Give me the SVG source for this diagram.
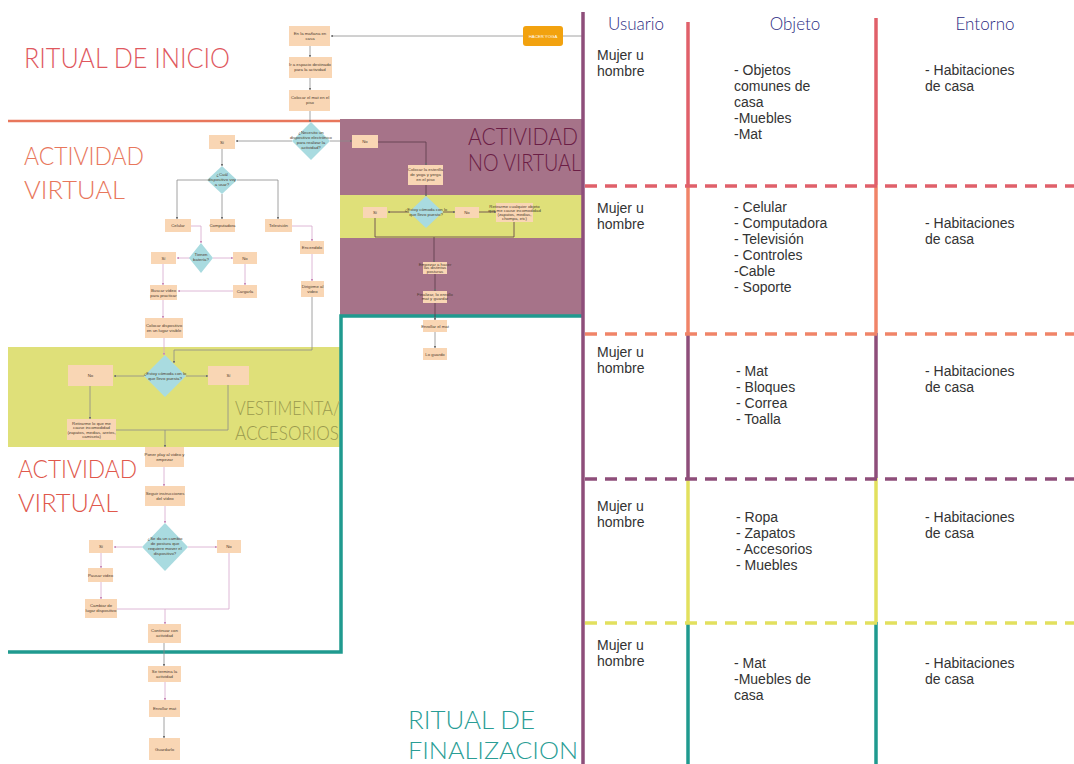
<svg xmlns="http://www.w3.org/2000/svg" width="1074" height="764" viewBox="0 0 1074 764">
<defs>
<marker id="ar" viewBox="0 0 6 6" refX="5" refY="3" markerWidth="3" markerHeight="3" orient="auto"><path d="M0,0 L6,3 L0,6 z" fill="#6f6f6f"/></marker>
<marker id="arp" viewBox="0 0 6 6" refX="5" refY="3" markerWidth="3" markerHeight="3" orient="auto"><path d="M0,0 L6,3 L0,6 z" fill="#c98bb8"/></marker>
<style>
.b{fill:#f9d6b4}
.d{fill:#a9dbe0}
.n{font-family:"Liberation Sans",Arial,sans-serif;font-size:4.3px;fill:#4d3b2e;text-anchor:middle}
.h{font-family:"Lato","Liberation Sans",sans-serif;font-weight:300}
.t{font-family:"Liberation Sans",Arial,sans-serif;font-size:14px;fill:#333}
.hd{font-family:"Lato","Liberation Sans",sans-serif;font-weight:300;font-size:17px;fill:#2c2c82}
.g{fill:none;stroke:#8c8c8c;stroke-width:0.8;marker-end:url(#ar)}
.g0{fill:none;stroke:#8c8c8c;stroke-width:0.8}
.p{fill:none;stroke:#d6a6cc;stroke-width:0.8;marker-end:url(#arp)}
.p0{fill:none;stroke:#d6a6cc;stroke-width:0.8}
.k{fill:none;stroke:#5a3a4a;stroke-width:0.8;marker-end:url(#ar)}
.k0{fill:none;stroke:#5a3a4a;stroke-width:0.8}
</style>
</defs>
<rect width="1074" height="764" fill="#ffffff"/>

<!-- background zones -->
<g id="zones">
<rect x="340" y="119" width="242" height="197" fill="#a67389"/>
<rect x="340" y="195" width="242" height="43" fill="#dfe079"/>
<rect x="8" y="347" width="333" height="100" fill="#dfe079"/>
<line x1="8" y1="121" x2="340" y2="121" stroke="#e8775c" stroke-width="2.5"/>
<polyline points="8,652 341,652 341,316 582,316" fill="none" stroke="#1f9a8f" stroke-width="3.5"/>
</g>

<g id="labels">
<text class="h" x="24" y="68" font-size="28" fill="#e0585e" textLength="206" lengthAdjust="spacingAndGlyphs">RITUAL DE INICIO</text>
<text class="h" x="24" y="165" font-size="25" fill="#e8775c" textLength="120" lengthAdjust="spacingAndGlyphs">ACTIVIDAD</text>
<text class="h" x="24" y="199" font-size="25" fill="#e8775c" textLength="101" lengthAdjust="spacingAndGlyphs">VIRTUAL</text>
<text class="h" x="468" y="145" font-size="23" fill="#6b1d45" textLength="110" lengthAdjust="spacingAndGlyphs">ACTIVIDAD</text>
<text class="h" x="468" y="171" font-size="23" fill="#6b1d45" textLength="113" lengthAdjust="spacingAndGlyphs">NO VIRTUAL</text>
<text class="h" x="235" y="415" font-size="20.5" fill="#9a9a4e" textLength="105" lengthAdjust="spacingAndGlyphs">VESTIMENTA/</text>
<text class="h" x="235" y="440" font-size="20.5" fill="#9a9a4e" textLength="104" lengthAdjust="spacingAndGlyphs">ACCESORIOS</text>
<text class="h" x="18" y="478" font-size="25" fill="#e0584c" textLength="119" lengthAdjust="spacingAndGlyphs">ACTIVIDAD</text>
<text class="h" x="18" y="512" font-size="25" fill="#e0584c" textLength="100" lengthAdjust="spacingAndGlyphs">VIRTUAL</text>
<text class="h" x="408" y="729" font-size="25" fill="#2a9d95" textLength="127" lengthAdjust="spacingAndGlyphs">RITUAL DE</text>
<text class="h" x="408" y="759" font-size="24" fill="#2a9d95" textLength="170" lengthAdjust="spacingAndGlyphs">FINALIZACION</text>
</g>

<!-- connectors -->
<g id="connectors">
<path class="g0" d="M583,36 H563"/>
<path class="g" d="M523,36 H331"/>
<path class="g" d="M310,46 V57"/>
<path class="g" d="M310,78 V90"/>
<path class="g" d="M310,111 V122"/>
<path class="g" d="M292,141 H236"/>
<path class="g" d="M330,141 H352"/>
<path class="k" d="M378,142 H426 V165"/>
<path class="g" d="M222,149 V166"/>
<path class="g" d="M208,180 H177 V219"/>
<path class="g" d="M222,194 V219"/>
<path class="g" d="M237,180 H278 V219"/>
<path class="p" d="M292,226 H312 V241"/>
<path class="p" d="M312,254 V281"/>
<path class="g" d="M312,297 V350 H174 V363"/>
<path class="p" d="M191,226 H201 V243"/>
<path class="p" d="M190,258 H177"/>
<path class="p" d="M213,258 H233"/>
<path class="p" d="M245,264 V285"/>
<path class="p" d="M233,291 H178"/>
<path class="p" d="M163,264 V285"/>
<path class="p" d="M163,300 V318"/>
<path class="p" d="M164,338 V355"/>
<path class="g" d="M144,376 H114"/>
<path class="g" d="M186,376 H208"/>
<path class="g" d="M90,386 V419"/>
<path class="g0" d="M116,430 H165"/>
<path class="g0" d="M228,385 V430 H165"/>
<path class="g" d="M165,430 V447"/>
<path class="p" d="M164,467 V486"/>
<path class="p" d="M165,506 V523"/>
<path class="p" d="M142,547 H114"/>
<path class="p" d="M188,547 H217"/>
<path class="p" d="M101,553 V568"/>
<path class="p" d="M101,582 V599"/>
<path class="p0" d="M117,609 H165"/>
<path class="p0" d="M229,553 V609 H165"/>
<path class="p" d="M165,609 V624"/>
<path class="g" d="M164,643 V666"/>
<path class="p" d="M165,682 V700"/>
<path class="g" d="M164,717 V738"/>
<path class="k" d="M426,185 V196"/>
<path class="k" d="M409,212 H388"/>
<path class="k" d="M443,212 H455"/>
<path class="k" d="M479,212 H496"/>
<path class="k0" d="M375,218 V237 H434"/>
<path class="k0" d="M514,222 V237 H434"/>
<path class="k" d="M434,237 V262"/>
<path class="k" d="M435,274 V291"/>
<path class="k" d="M435,303 V320"/>
<path class="g" d="M435,332 V348"/>
</g>

<!-- flow nodes -->
<g id="n-yoga"><rect x="523" y="26" width="40" height="20" rx="3" fill="#f2a20f"/><text class="n" x="543" y="37.5" style="fill:#fff">HACER YOGA</text></g>
<g id="n-manana"><rect class="b" x="289" y="26" width="41" height="20"/><text class="n" x="310" y="35">En la mañana en</text><text class="n" x="310" y="40">casa</text></g>
<g id="n-espacio"><rect class="b" x="289" y="57" width="43" height="21"/><text class="n" x="310" y="66">Ir a espacio destinado</text><text class="n" x="310" y="71">para la actividad</text></g>
<g id="n-mat"><rect class="b" x="289" y="90" width="41" height="21"/><text class="n" x="310" y="99">Colocar el mat en el</text><text class="n" x="310" y="104">piso</text></g>
<g id="n-necesito"><polygon class="d" points="311,122 330,141 311,160 292,141"/><text class="n" x="311" y="134" font-size="3.6">¿Necesito un</text><text class="n" x="311" y="139" font-size="3.6">dispositivo electrónico</text><text class="n" x="311" y="144" font-size="3.6">para realizar la</text><text class="n" x="311" y="149" font-size="3.6">actividad?</text></g>
<g id="n-si1"><rect class="b" x="209" y="135" width="26" height="14"/><text class="n" x="222" y="143.5">Sí</text></g>
<g id="n-no1"><rect class="b" x="352" y="135" width="26" height="13"/><text class="n" x="365" y="143">No</text></g>
<g id="n-cual"><polygon class="d" points="222,166 237,180 222,194 207,180"/><text class="n" x="222" y="176" font-size="3.8">¿Cuál</text><text class="n" x="222" y="181" font-size="3.8">dispositivo voy</text><text class="n" x="222" y="186" font-size="3.8">a usar?</text></g>
<g id="n-celular"><rect class="b" x="165" y="219" width="26" height="13"/><text class="n" x="178" y="227">Celular</text></g>
<g id="n-compu"><rect class="b" x="210" y="219" width="25" height="13"/><text class="n" x="222.5" y="227">Computadora</text></g>
<g id="n-tele"><rect class="b" x="265" y="219" width="27" height="13"/><text class="n" x="278.5" y="227">Televisión</text></g>
<g id="n-encendido"><rect class="b" x="300" y="241" width="24" height="13"/><text class="n" x="312" y="249">Encendido</text></g>
<g id="n-dirigirme"><rect class="b" x="301" y="281" width="23" height="16"/><text class="n" x="312.5" y="288">Dirigirme al</text><text class="n" x="312.5" y="293">video</text></g>
<g id="n-bateria"><polygon class="d" points="201,243 213,258 201,273 189,258"/><text class="n" x="201" y="256" font-size="3.8">Tienen</text><text class="n" x="201" y="261" font-size="3.8">batería?</text></g>
<g id="n-si2"><rect class="b" x="151" y="252" width="25" height="12"/><text class="n" x="163.5" y="259.5">Sí</text></g>
<g id="n-no2"><rect class="b" x="233" y="252" width="24" height="12"/><text class="n" x="245" y="259.5">No</text></g>
<g id="n-cargarla"><rect class="b" x="233" y="285" width="24" height="13"/><text class="n" x="245" y="293">Cargarla</text></g>
<g id="n-buscar"><rect class="b" x="150" y="285" width="27" height="15"/><text class="n" x="163.5" y="291.5">Buscar vídeo</text><text class="n" x="163.5" y="296.5">para practicar</text></g>
<g id="n-colocar"><rect class="b" x="145" y="318" width="38" height="20"/><text class="n" x="164" y="327">Colocar dispositivo</text><text class="n" x="164" y="332">en un lugar visible</text></g>
<g id="n-comoda"><polygon class="d" points="165,355 186,376 165,397 144,376"/><text class="n" x="165" y="375" font-size="3.8">¿Estoy cómoda con lo</text><text class="n" x="165" y="380" font-size="3.8">que llevo puesta?</text></g>
<g id="n-no3"><rect class="b" x="68" y="365" width="45" height="21"/><text class="n" x="90.5" y="377">No</text></g>
<g id="n-si3"><rect class="b" x="208" y="366" width="41" height="19"/><text class="n" x="228.5" y="377">Sí</text></g>
<g id="n-retirarme"><rect class="b" x="67" y="419" width="49" height="21"/><text class="n" x="91.5" y="424.5">Retirarme lo que me</text><text class="n" x="91.5" y="429">cause incomodidad</text><text class="n" x="91.5" y="433.5">(zapatos, medias, aretes,</text><text class="n" x="91.5" y="438">camiseta)</text></g>
<g id="n-play"><rect class="b" x="145" y="447" width="39" height="20"/><text class="n" x="164.5" y="455.5">Poner play al video y</text><text class="n" x="164.5" y="460.5">empezar</text></g>
<g id="n-seguir"><rect class="b" x="145" y="486" width="40" height="20"/><text class="n" x="165" y="494.5">Seguir instrucciones</text><text class="n" x="165" y="499.5">del vídeo</text></g>
<g id="n-postura"><polygon class="d" points="165,523 188,547 165,571 142,547"/><text class="n" x="165" y="540" font-size="3.6">¿Se da un cambio</text><text class="n" x="165" y="545" font-size="3.6">de postura que</text><text class="n" x="165" y="550" font-size="3.6">requiere mover el</text><text class="n" x="165" y="555" font-size="3.6">dispositivo?</text></g>
<g id="n-si4"><rect class="b" x="89" y="540" width="24" height="13"/><text class="n" x="101" y="548">Sí</text></g>
<g id="n-no4"><rect class="b" x="217" y="540" width="24" height="13"/><text class="n" x="229" y="548">No</text></g>
<g id="n-pausar"><rect class="b" x="88" y="568" width="25" height="14"/><text class="n" x="100.5" y="576.5">Pausar video</text></g>
<g id="n-cambiar"><rect class="b" x="85" y="599" width="32" height="19"/><text class="n" x="101" y="607">Cambiar de</text><text class="n" x="101" y="612">lugar dispositivo</text></g>
<g id="n-continuar"><rect class="b" x="148" y="624" width="33" height="19"/><text class="n" x="164.5" y="632">Continuar con</text><text class="n" x="164.5" y="637">actividad</text></g>
<g id="n-termina"><rect class="b" x="148" y="666" width="33" height="16"/><text class="n" x="164.5" y="673">Se termina la</text><text class="n" x="164.5" y="678">actividad</text></g>
<g id="n-enrollar"><rect class="b" x="149" y="700" width="31" height="17"/><text class="n" x="164.5" y="710">Enrollar mat</text></g>
<g id="n-guardar"><rect class="b" x="149" y="738" width="31" height="22"/><text class="n" x="164.5" y="750.5">Guardarlo</text></g>
<g id="n-esterilla"><rect class="b" x="408" y="165" width="35" height="20"/><text class="n" x="425.5" y="171">Colocar la esterilla</text><text class="n" x="425.5" y="176">de yoga y yerga</text><text class="n" x="425.5" y="181">en el piso</text></g>
<g id="n-comoda2"><polygon class="d" points="426,196 443,212 426,228 409,212"/><text class="n" x="426" y="211" font-size="3.4">¿Estoy cómoda con lo</text><text class="n" x="426" y="215.5" font-size="3.4">que llevo puesto?</text></g>
<g id="n-si5"><rect class="b" x="363" y="207" width="24" height="11"/><text class="n" x="375" y="214">Sí</text></g>
<g id="n-no5"><rect class="b" x="455" y="207" width="24" height="11"/><text class="n" x="467" y="214">No</text></g>
<g id="n-retirar2"><rect class="b" x="496" y="203" width="37" height="19"/><text class="n" x="514.5" y="208" font-size="3.5">Retirarme cualquier objeto</text><text class="n" x="514.5" y="212" font-size="3.5">que me cause incomodidad</text><text class="n" x="514.5" y="216" font-size="3.5">(zapatos, medias,</text><text class="n" x="514.5" y="220" font-size="3.5">chompa, etc)</text></g>
<g id="n-empezar"><rect class="b" x="423" y="262" width="24" height="12"/><text class="n" x="435" y="265.5" font-size="3.4">Empezar a hacer</text><text class="n" x="435" y="269" font-size="3.4">las distintas</text><text class="n" x="435" y="272.5" font-size="3.4">posturas</text></g>
<g id="n-finalizar"><rect class="b" x="423" y="291" width="24" height="12"/><text class="n" x="435" y="296" font-size="3.4">Finalizar, lo enrollo</text><text class="n" x="435" y="300" font-size="3.4">mat y guardar</text></g>
<g id="n-enrollar2"><rect class="b" x="423" y="320" width="24" height="12"/><text class="n" x="435" y="327.5" font-size="3.6">Enrollar el mat</text></g>
<g id="n-guardo"><rect class="b" x="423" y="348" width="24" height="12"/><text class="n" x="435" y="355.5" font-size="3.6">Lo guardo</text></g>

<!-- table -->
<g id="table">
<line x1="583" y1="12" x2="583" y2="764" stroke="#8e4e7a" stroke-width="3.5"/>
<line x1="688" y1="22" x2="688" y2="185" stroke="#e0606a" stroke-width="3.5"/>
<line x1="688" y1="185" x2="688" y2="333" stroke="#f08468" stroke-width="3.5"/>
<line x1="688" y1="333" x2="688" y2="478" stroke="#8e4e7a" stroke-width="3.5"/>
<line x1="688" y1="478" x2="688" y2="622" stroke="#e2e05e" stroke-width="3.5"/>
<line x1="688" y1="622" x2="688" y2="764" stroke="#1f9a8f" stroke-width="3.5"/>
<line x1="876" y1="18" x2="876" y2="185" stroke="#e0606a" stroke-width="3.5"/>
<line x1="876" y1="185" x2="876" y2="333" stroke="#f08468" stroke-width="3.5"/>
<line x1="876" y1="333" x2="876" y2="478" stroke="#8e4e7a" stroke-width="3.5"/>
<line x1="876" y1="478" x2="876" y2="622" stroke="#e2e05e" stroke-width="3.5"/>
<line x1="876" y1="622" x2="876" y2="764" stroke="#1f9a8f" stroke-width="3.5"/>
<line x1="585" y1="186" x2="1074" y2="186" stroke="#e0606a" stroke-width="3.5" stroke-dasharray="12 8"/>
<line x1="585" y1="334" x2="1074" y2="334" stroke="#f08468" stroke-width="3.5" stroke-dasharray="12 8"/>
<line x1="585" y1="479" x2="1074" y2="479" stroke="#8e4e7a" stroke-width="3.5" stroke-dasharray="12 8"/>
<line x1="585" y1="623" x2="1074" y2="623" stroke="#e2e05e" stroke-width="3.5" stroke-dasharray="12 8"/>
<text class="hd" x="636" y="30" text-anchor="middle">Usuario</text>
<text class="hd" x="795" y="30" text-anchor="middle">Objeto</text>
<text class="hd" x="985" y="30" text-anchor="middle">Entorno</text>
<text class="t" x="597" y="60">Mujer u</text><text class="t" x="597" y="76">hombre</text>
<text class="t" x="734" y="75">- Objetos</text><text class="t" x="734" y="91">comunes de</text><text class="t" x="734" y="107">casa</text><text class="t" x="734" y="123">-Muebles</text><text class="t" x="734" y="139">-Mat</text>
<text class="t" x="925" y="75">- Habitaciones</text><text class="t" x="925" y="91">de casa</text>
<text class="t" x="597" y="213">Mujer u</text><text class="t" x="597" y="229">hombre</text>
<text class="t" x="734" y="212">- Celular</text><text class="t" x="734" y="228">- Computadora</text><text class="t" x="734" y="244">- Televisión</text><text class="t" x="734" y="260">- Controles</text><text class="t" x="734" y="276">-Cable</text><text class="t" x="734" y="292">- Soporte</text>
<text class="t" x="925" y="228">- Habitaciones</text><text class="t" x="925" y="244">de casa</text>
<text class="t" x="597" y="357">Mujer u</text><text class="t" x="597" y="373">hombre</text>
<text class="t" x="736" y="376">- Mat</text><text class="t" x="736" y="392">- Bloques</text><text class="t" x="736" y="408">- Correa</text><text class="t" x="736" y="424">- Toalla</text>
<text class="t" x="925" y="376">- Habitaciones</text><text class="t" x="925" y="392">de casa</text>
<text class="t" x="597" y="511">Mujer u</text><text class="t" x="597" y="527">hombre</text>
<text class="t" x="736" y="522">- Ropa</text><text class="t" x="736" y="538">- Zapatos</text><text class="t" x="736" y="554">- Accesorios</text><text class="t" x="736" y="570">- Muebles</text>
<text class="t" x="925" y="522">- Habitaciones</text><text class="t" x="925" y="538">de casa</text>
<text class="t" x="597" y="650">Mujer u</text><text class="t" x="597" y="666">hombre</text>
<text class="t" x="734" y="668">- Mat</text><text class="t" x="734" y="684">-Muebles de</text><text class="t" x="734" y="700">casa</text>
<text class="t" x="925" y="668">- Habitaciones</text><text class="t" x="925" y="684">de casa</text>
</g>
</svg>
